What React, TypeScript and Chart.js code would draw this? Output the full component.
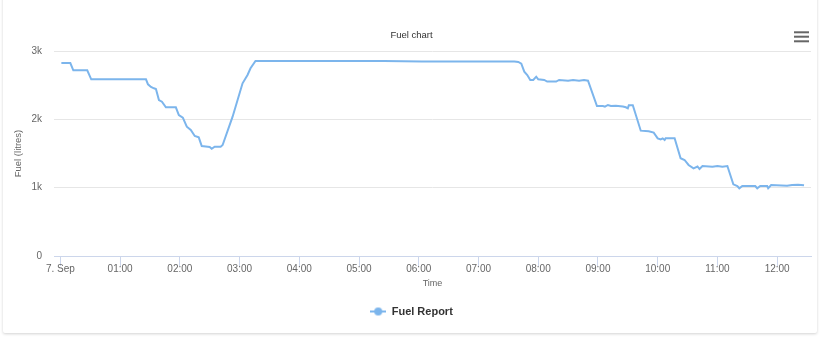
import { useEffect, useRef } from "react";
import { Chart, registerables } from "chart.js";

Chart.register(...registerables);

// x values are minutes after midnight, 7 Sep
const HOUR_TICKS = [0, 60, 120, 180, 240, 300, 360, 420, 480, 540, 600, 660, 720];
const HOUR_LABELS = ["7. Sep", "01:00", "02:00", "03:00", "04:00", "05:00", "06:00", "07:00", "08:00", "09:00", "10:00", "11:00", "12:00"];
const Y_TICKS = [0, 1000, 2000, 3000];
const Y_LABELS = ["0", "1k", "2k", "3k"];

const TIMES_MIN = [
  1, 10, 13, 27, 31, 86, 88, 91, 94, 96, 99, 102, 106, 116, 119, 123, 127, 131, 135, 139,
  142, 146, 150, 152, 155, 161, 163, 173, 183, 188, 191, 196, 325, 363, 456, 460, 463, 466,
  469, 472, 475, 478, 480, 486, 489, 498, 501, 510, 515, 521, 526, 530, 539, 545, 547, 550,
  553, 558, 565, 568, 570, 571, 575, 583, 591, 596, 600, 603, 605, 607, 608, 617, 623, 627,
  631, 636, 640, 642, 645, 655, 660, 665, 670, 676, 680, 682, 685, 698, 700, 703, 710, 711,
  714, 730, 735, 741, 747,
];
const FUEL_LITRES = [
  2824, 2824, 2717, 2717, 2586, 2586, 2512, 2473, 2454, 2443, 2283, 2258, 2176, 2176, 2063, 2024, 1892, 1844, 1756, 1737,
  1610, 1602, 1595, 1570, 1600, 1600, 1624, 2039, 2527, 2649, 2747, 2854, 2852, 2846, 2846, 2840, 2815, 2697,
  2649, 2576, 2576, 2624, 2586, 2576, 2552, 2552, 2576, 2566, 2576, 2566, 2576, 2566, 2195, 2195, 2185, 2210,
  2195, 2200, 2188, 2176, 2161, 2205, 2205, 1834, 1825, 1805, 1722, 1707, 1722, 1697, 1722, 1722, 1430, 1405,
  1332, 1283, 1310, 1273, 1317, 1307, 1317, 1307, 1317, 1049, 1024, 991, 1024, 1024, 991, 1024, 1024, 991,
  1039, 1029, 1039, 1044, 1034,
];

const FONT = '"Liberation Sans", Arial, sans-serif';
const LINE_COLOR = "#7cb5ec";

const menuIcon = {
  id: "menuIcon",
  afterDraw(chart: any) {
    const ctx = chart.ctx;
    ctx.save();
    ctx.fillStyle = "#666666";
    [31.3, 35.7, 40.3].forEach((y) => ctx.fillRect(794, y, 15, 2));
    ctx.restore();
  },
};

export default function App() {
  const ref = useRef<HTMLCanvasElement>(null);

  useEffect(() => {
    if (!ref.current) return;
    const marker = document.createElement("canvas");
    marker.width = 16;
    marker.height = 10;
    const mc = marker.getContext("2d")!;
    mc.strokeStyle = LINE_COLOR;
    mc.lineWidth = 2;
    mc.beginPath();
    mc.moveTo(0, 5);
    mc.lineTo(16, 5);
    mc.stroke();
    mc.fillStyle = LINE_COLOR;
    mc.beginPath();
    mc.arc(8, 5, 4, 0, Math.PI * 2);
    mc.fill();

    const points = TIMES_MIN.map((t, i) => ({ x: t, y: FUEL_LITRES[i] }));

    const chart = new Chart(ref.current, {
      type: "line",
      data: {
        datasets: [
          {
            label: "Fuel Report",
            data: points,
            borderColor: LINE_COLOR,
            backgroundColor: LINE_COLOR,
            borderWidth: 2,
            pointRadius: 0,
            tension: 0,
            fill: false,
          },
        ],
      },
      options: {
        animation: false,
        responsive: false,
        devicePixelRatio: 1,
        layout: { padding: { top: 0, left: 12, right: 12, bottom: 10 } },
        plugins: {
          tooltip: { enabled: false },
          title: {
            display: true,
            text: "Fuel chart",
            color: "#333333",
            font: { family: FONT, size: 9.5, weight: "normal" },
            padding: { top: 29.3, bottom: 10.3 },
          },
          legend: {
            position: "bottom",
            labels: {
              usePointStyle: true,
              pointStyle: marker as any,
              pointStyleWidth: 16,
              padding: 10,
              color: "#333333",
              font: { family: FONT, size: 11, weight: "bold" },
            },
          },
        },
        scales: {
          x: {
            type: "linear",
            min: -6.4,
            max: 754,
            afterBuildTicks: (s: any) => {
              s.ticks = HOUR_TICKS.map((v) => ({ value: v }));
            },
            afterFit: (s: any) => {
              s.height = 40;
            },
            ticks: {
              autoSkip: false,
              maxRotation: 0,
              padding: -3,
              color: "#666666",
              font: { family: FONT, size: 10 },
              callback: (v: any) => {
                const i = HOUR_TICKS.indexOf(Number(v));
                return i >= 0 ? HOUR_LABELS[i] : "";
              },
            },
            grid: { drawOnChartArea: false, drawTicks: true, tickLength: 10, color: "#ccd6eb", lineWidth: 1 },
            border: { color: "#ccd6eb", width: 1 },
            title: {
              display: true,
              text: "Time",
              color: "#666666",
              font: { family: FONT, size: 9 },
              padding: { top: 0, bottom: 6.6 },
            },
          },
          y: {
            min: 0,
            max: 3000,
            afterBuildTicks: (s: any) => {
              s.ticks = Y_TICKS.map((v) => ({ value: v }));
            },
            afterFit: (s: any) => {
              s.width = 42;
            },
            ticks: {
              padding: 12,
              color: "#666666",
              font: { family: FONT, size: 10 },
              callback: (v: any) => {
                const i = Y_TICKS.indexOf(Number(v));
                return i >= 0 ? Y_LABELS[i] : "";
              },
            },
            grid: {
              drawTicks: false,
              color: (c: any) => (c.tick && c.tick.value === 0 ? "rgba(0,0,0,0)" : "#e6e6e6"),
              lineWidth: 1,
            },
            border: { display: false },
            title: {
              display: true,
              text: "Fuel (litres)",
              color: "#666666",
              font: { family: FONT, size: 9.5 },
              padding: { top: 1, bottom: 0 },
            },
          },
        },
      },
      plugins: [menuIcon],
    });
    return () => chart.destroy();
  }, []);

  return (
    <div style={{ position: "absolute", left: 0, top: 0, width: 823, height: 337, background: "#ffffff", overflow: "hidden" }}>
      <div
        style={{
          position: "absolute",
          left: 3,
          top: -6,
          width: 814,
          height: 339,
          background: "#ffffff",
          borderRadius: 2,
          boxShadow: "0 1px 3px rgba(0,0,0,0.18)",
        }}
      />
      <canvas ref={ref} width={823} height={337} style={{ position: "absolute", left: 0, top: 0, width: 823, height: 337 }} />
    </div>
  );
}
